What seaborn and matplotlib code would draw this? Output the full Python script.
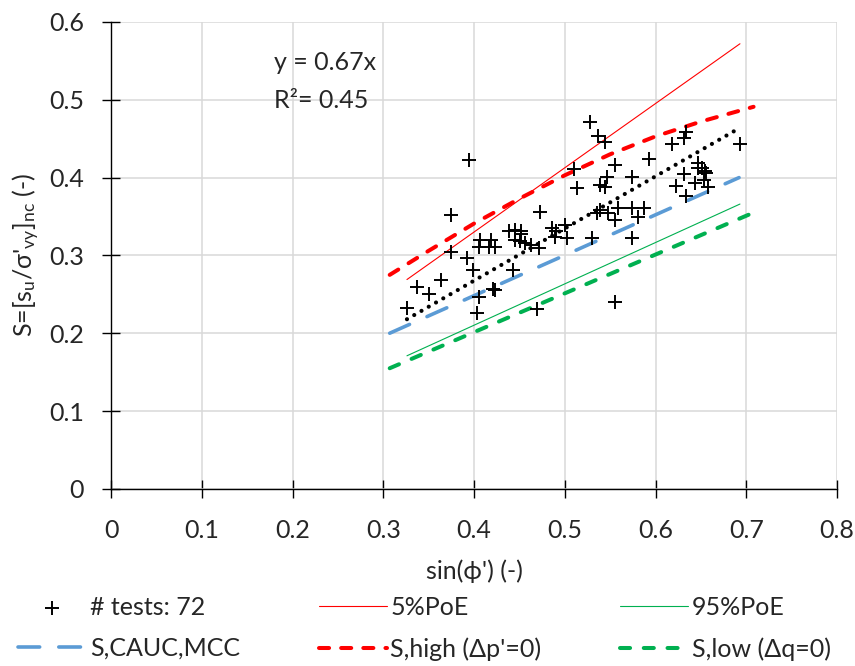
import matplotlib
matplotlib.use("Agg")
import matplotlib.pyplot as plt
import seaborn as sns
import numpy as np

# === DATA ===
phi_sin = [0.528, 0.537, 0.544, 0.394, 0.510, 0.555, 0.593, 0.618, 0.631, 0.633,
           0.693, 0.513, 0.546, 0.539, 0.544, 0.574, 0.631, 0.647, 0.651, 0.656,
           0.653, 0.644, 0.623, 0.658, 0.633, 0.375, 0.473, 0.539, 0.535, 0.548,
           0.559, 0.574, 0.587, 0.555, 0.581, 0.574, 0.530, 0.486, 0.500, 0.489,
           0.502, 0.438, 0.445, 0.452, 0.407, 0.419, 0.405, 0.416, 0.423, 0.445,
           0.451, 0.456, 0.463, 0.471, 0.375, 0.392, 0.399, 0.443, 0.364, 0.337,
           0.350, 0.326, 0.405, 0.421, 0.423, 0.403, 0.469, 0.555, 0.647, 0.654,
           0.490, 0.452]
S_tests = [0.472, 0.453, 0.446, 0.422, 0.411, 0.416, 0.424, 0.443, 0.451, 0.459,
           0.443, 0.387, 0.401, 0.391, 0.388, 0.401, 0.404, 0.419, 0.412, 0.406,
           0.397, 0.393, 0.389, 0.388, 0.376, 0.352, 0.356, 0.359, 0.354, 0.354,
           0.361, 0.361, 0.361, 0.346, 0.350, 0.323, 0.322, 0.335, 0.339, 0.324,
           0.322, 0.331, 0.333, 0.332, 0.320, 0.320, 0.311, 0.311, 0.311, 0.320,
           0.318, 0.316, 0.314, 0.309, 0.305, 0.297, 0.281, 0.281, 0.269, 0.259,
           0.251, 0.232, 0.247, 0.257, 0.255, 0.226, 0.231, 0.240, 0.412, 0.409,
           0.331, 0.327]

# linear trend y = 0.67x
trend_x = [0.326, 0.690]
trend_y = [0.218, 0.462]

poe5_x = [0.326, 0.693]
poe5_y = [0.269, 0.572]
poe95_x = [0.326, 0.693]
poe95_y = [0.171, 0.366]

cauc_x = [0.307, 0.692]
cauc_y = [0.200, 0.400]

high_x = [0.307, 0.35, 0.40, 0.45, 0.50, 0.55, 0.60, 0.65, 0.708]
high_y = [0.275, 0.306, 0.341, 0.373, 0.403, 0.430, 0.453, 0.472, 0.491]

low_x = [0.307, 0.706]
low_y = [0.155, 0.354]

x_ticks = [0, 0.1, 0.2, 0.3, 0.4, 0.5, 0.6, 0.7, 0.8]
y_ticks = [0, 0.1, 0.2, 0.3, 0.4, 0.5, 0.6]
x_ticklabels = ['0', '0.1', '0.2', '0.3', '0.4', '0.5', '0.6', '0.7', '0.8']
y_ticklabels = ['0', '0.1', '0.2', '0.3', '0.4', '0.5', '0.6']

FS = 18

sns.set_theme(style="whitegrid")
plt.rcParams['font.family'] = ['Lato', 'DejaVu Sans']
plt.rcParams['mathtext.default'] = 'regular'

fig = plt.figure(figsize=(8.55, 6.66), dpi=100)
ax = fig.add_axes([0.130, 0.266, 0.849, 0.701])

sns.lineplot(x=poe5_x, y=poe5_y, color='#ff0000', lw=0.8, ax=ax, label='5%PoE')
sns.lineplot(x=poe95_x, y=poe95_y, color='#00b050', lw=0.8, ax=ax, label='95%PoE')
sns.lineplot(x=cauc_x, y=cauc_y, color='#5b9bd5', lw=2.6, ax=ax, label='S,CAUC,MCC')
sns.lineplot(x=high_x, y=high_y, color='#ff0000', lw=2.9, ax=ax, label="S,high (Δp'=0)",
             sort=False)
sns.lineplot(x=low_x, y=low_y, color='#00b050', lw=2.9, ax=ax, label='S,low (Δq=0)')
sns.lineplot(x=trend_x, y=trend_y, color='black', lw=3.0, ax=ax, legend=False)

lines = ax.get_lines()
lines[2].set_dashes([6.0, 5.3])
lines[3].set_dashes([2.5, 3.0])
lines[4].set_dashes([2.5, 3.4])
lines[5].set_dashes([0.01, 2.0])
for ln in lines[2:6]:
    ln.set_dash_capstyle('round')

sns.scatterplot(x=phi_sin, y=S_tests, marker='+', color='black', s=100,
                linewidth=1.4, ax=ax, label='# tests: 72', zorder=5)

ax.set_xlim(0, 0.8)
ax.set_ylim(0, 0.6)
ax.set_xticks(x_ticks)
ax.set_yticks(y_ticks)
ax.set_xticklabels(x_ticklabels)
ax.set_yticklabels(y_ticklabels)
ax.tick_params(labelsize=FS, direction='inout', length=13, width=1, color='black',
               left=True, bottom=True)
ax.tick_params(axis='y', pad=13)
ax.tick_params(axis='x', pad=15)
ax.grid(True, color='#d9d9d9', lw=1.1)
ax.spines['top'].set_visible(False)
ax.spines['right'].set_visible(False)
for s in ['left', 'bottom']:
    ax.spines[s].set_color('black')
    ax.spines[s].set_linewidth(1.0)
    ax.spines[s].set_zorder(3)

ax.set_xlabel("sin(ϕ') (-)", fontsize=FS, labelpad=13)
ax.set_ylabel("S=[s$_u$/σ'$_{vy}$]$_{nc}$ (-)", fontsize=FS, labelpad=5)

ax.text(0.18, 0.548, 'y = 0.67x', fontsize=FS, ha='left', va='center')
ax.text(0.18, 0.499, 'R²= 0.45', fontsize=FS, ha='left', va='center')

handles, labels = ax.get_legend_handles_labels()
order = ['# tests: 72', 'S,CAUC,MCC', '5%PoE', "S,high (Δp'=0)", '95%PoE', 'S,low (Δq=0)']
hmap = dict(zip(labels, handles))
ax.legend([hmap[k] for k in order], order, loc='upper left',
          bbox_to_anchor=(18 / 855, 1 - 596 / 666), bbox_transform=fig.transFigure,
          ncol=3, frameon=False, fontsize=FS, handlelength=2.72, columnspacing=3.15,
          handletextpad=0.15, labelspacing=0.72, borderpad=0, borderaxespad=0)

fig.savefig('out.png', dpi=100)
